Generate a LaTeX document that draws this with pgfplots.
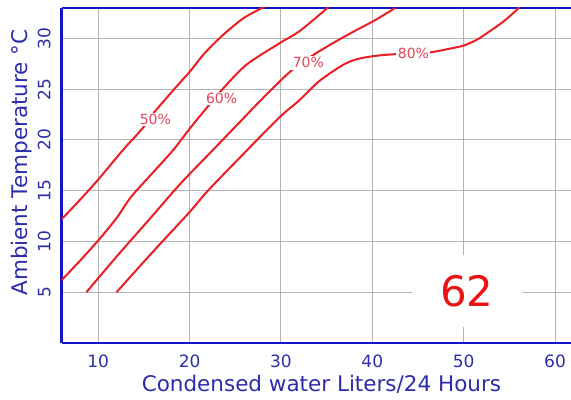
\documentclass[border=0pt]{standalone}
\usepackage{pgfplots}
\pgfplotsset{compat=1.18}
\usepackage{fontspec}
\setmainfont{DejaVu Sans}
\definecolor{curvered}{RGB}{235,30,35}
\definecolor{lblpink}{RGB}{228,70,90}
\definecolor{axblue}{RGB}{20,20,200}
\definecolor{tickblue}{RGB}{45,45,170}
\definecolor{gridgray}{RGB}{180,180,180}
\definecolor{bigred}{RGB}{235,20,20}
\begin{document}
\begin{tikzpicture}
\begin{axis}[
  name=ax,
  scale only axis,
  width=509.3pt, height=335pt,
  xmin=6, xmax=61.75, ymin=0, ymax=33,
  axis x line*=box, axis y line*=left,
  xtick={10,20,30,40,50,60},
  ytick={5,10,15,20,25,30},
  major tick length=0pt,
  grid=major,
  major grid style={gridgray, line width=1pt},
  axis line style={axblue, line width=2.5pt},
  /pgf/number format/assume math mode=true,
  tick label style={font=\fontsize{17}{17}\selectfont, text=tickblue},
  xticklabel style={anchor=north, inner sep=0pt},
  xticklabel shift=12pt,
  yticklabel style={rotate=90, anchor=south, inner sep=0pt},
  yticklabel shift=11pt,
  xlabel={Condensed water Liters/24 Hours},
  ylabel={Ambient Temperature °C},
  label style={font=\fontsize{21.5}{21.5}\selectfont, text=tickblue},
  xlabel style={at={(axis description cs:0.51,0)}, anchor=base, yshift=-49pt},
  ylabel style={at={(axis description cs:-0.0681,0.539)}, anchor=base},
]
\addplot[curvered, line width=2pt, smooth] coordinates {
(6,12.2) (8,14.1) (10,16.1) (12.7,19.0) (14.9,21.2) (16.2,22.8) (18.9,25.6) (20,26.7) (21.5,28.4) (22.9,29.7) (24.1,30.7) (25.9,32.0) (27.7,32.9) (28.2,33.1)};
\addplot[curvered, line width=2pt, smooth] coordinates {
(6,6.2) (8,8.1) (10,10.1) (12,12.3) (13.6,14.4) (16,16.8) (18.2,19.0) (20,21.1) (22.0,23.3) (23.6,25.0) (26.2,27.4) (29.8,29.5) (32.0,30.7) (34.7,32.7) (35.2,33.1)};
\addplot[curvered, line width=2pt, smooth] coordinates {
(8.7,5.0) (12,8.5) (16,12.6) (18.9,15.6) (22,18.5) (25,21.3) (28,24.1) (31.1,26.8) (33.6,28.4) (36,29.7) (38,30.7) (40.3,31.8) (42.5,33.0)};
\addplot[curvered, line width=2pt, smooth] coordinates {
(12,5.0) (16,9.0) (20,12.9) (22,15.0) (26.3,19.0) (29.8,22.2) (32,23.9) (34.2,25.8) (36.8,27.4) (38.5,28.0) (40.5,28.3) (42.5,28.45) (44.5,28.5) (46.5,28.65) (48.5,29.0) (50,29.3) (51.5,29.9) (53,30.8) (54.4,31.7) (55.8,32.8) (56.1,33.1)};
\node[fill=white, inner sep=1.5pt, text=lblpink, font=\fontsize{14}{14}\selectfont] at (axis cs:16.25,22.0) {50\%};
\node[fill=white, inner sep=1.5pt, text=lblpink, font=\fontsize{14}{14}\selectfont] at (axis cs:23.5,24.1) {60\%};
\node[fill=white, inner sep=1.5pt, text=lblpink, font=\fontsize{14}{14}\selectfont] at (axis cs:33.0,27.6) {70\%};
\node[fill=white, inner sep=1.5pt, text=lblpink, font=\fontsize{14}{14}\selectfont] at (axis cs:44.5,28.55) {80\%};
\node[fill=white, inner xsep=28pt, inner ysep=20pt, text=bigred, font=\fontsize{42}{42}\selectfont] at (axis cs:50.35,5.1) {62};
\end{axis}
\pgfresetboundingbox
\path[use as bounding box] ([xshift=-61.7pt,yshift=-57pt]ax.south west) rectangle ([yshift=8pt]ax.north east);
\end{tikzpicture}
\end{document}
